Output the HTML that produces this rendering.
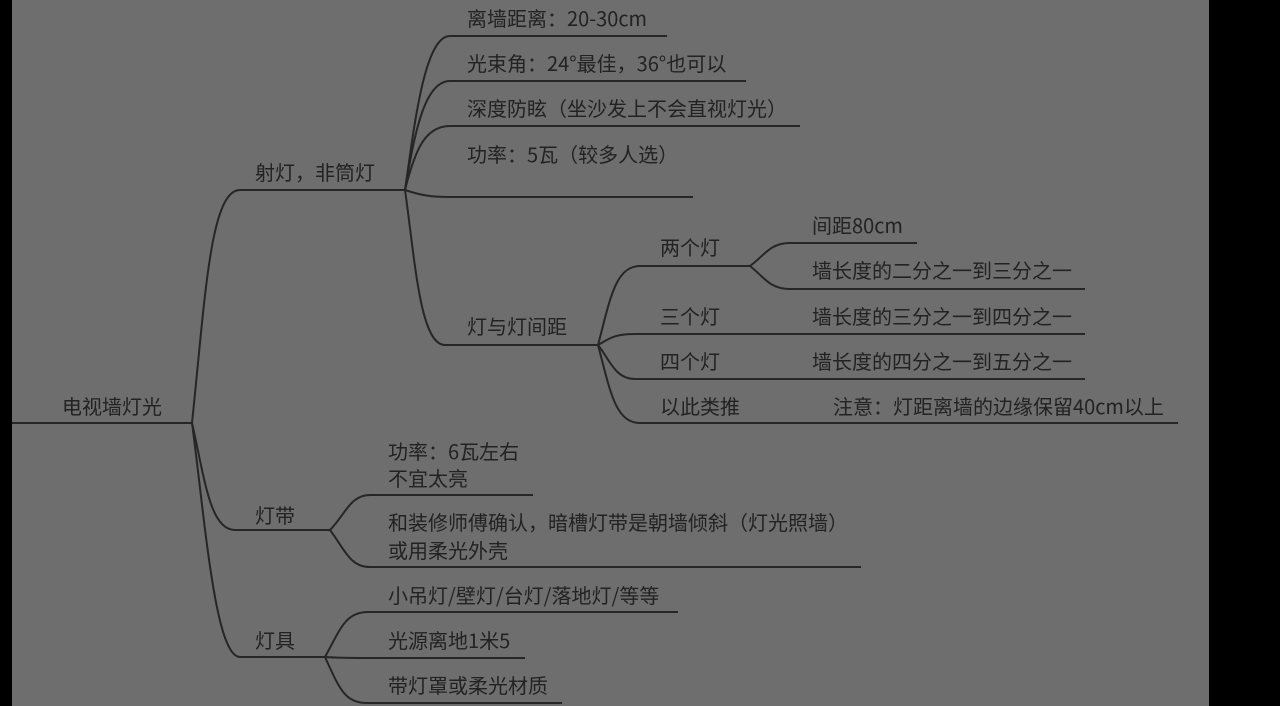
<!DOCTYPE html>
<html><head><meta charset="utf-8"><style>
html,body{margin:0;padding:0;width:1280px;height:706px;overflow:hidden;background:#000}
svg{display:block}
text{font-family:"Noto Sans CJK SC","Liberation Sans",sans-serif;font-size:20px;fill:#222}
</style></head><body>
<svg width="1280" height="706" viewBox="0 0 1280 706">
<rect x="12" y="0" width="1197" height="706" fill="#6e6e6e"/>
<g fill="none" stroke="#262626" stroke-width="2">
<path d="M12 423 H192"/>
<path d="M192 423 C205 300 210 190 240 190 H405"/>
<path d="M192 423 C205 480 210 530 235 530 H330"/>
<path d="M192 423 C205 520 215 657 240 657 H325"/>
<path d="M405 190 C415 120 425 36 450 36 H667"/>
<path d="M405 190 C415 130 425 81 450 81 H746"/>
<path d="M405 190 C415 150 425 126 450 126 H800"/>
<path d="M405 190 C420 195 430 197 450 197 H693"/>
<path d="M405 190 C415 260 420 345 445 345 H598"/>
<path d="M598 345 C610 300 615 266 640 266 H750"/>
<path d="M598 345 C610 338 615 334 635 334 H1085"/>
<path d="M598 345 C610 360 615 379 635 379 H1085"/>
<path d="M598 345 C610 390 615 423 640 423 H1178"/>
<path d="M750 266 C765 255 770 243 790 243 H917"/>
<path d="M750 266 C765 278 770 289 790 289 H1085"/>
<path d="M330 530 C345 515 350 495 370 495 H533"/>
<path d="M330 530 C345 550 350 567 370 567 H861"/>
<path d="M325 657 C340 630 345 612 368 612 H678"/>
<path d="M325 657 C340 658 345 658 368 658 H525"/>
<path d="M325 657 C340 690 345 703 368 703 H562"/>
</g>
<text x="62" y="414">电视墙灯光</text>
<text x="255" y="180">射灯，非筒灯</text>
<text x="255" y="523">灯带</text>
<text x="255" y="648">灯具</text>
<text x="467" y="26">离墙距离：20-30cm</text>
<text x="467" y="71">光束角：24°最佳，36°也可以</text>
<text x="467" y="116">深度防眩（坐沙发上不会直视灯光）</text>
<text x="467" y="162">功率：5瓦（较多人选）</text>
<text x="467" y="334">灯与灯间距</text>
<text x="660" y="255">两个灯</text>
<text x="660" y="324">三个灯</text>
<text x="660" y="369">四个灯</text>
<text x="660" y="414">以此类推</text>
<text x="812" y="233">间距80cm</text>
<text x="812" y="278">墙长度的二分之一到三分之一</text>
<text x="812" y="324">墙长度的三分之一到四分之一</text>
<text x="812" y="369">墙长度的四分之一到五分之一</text>
<text x="833" y="414">注意：灯距离墙的边缘保留40cm以上</text>
<text x="388" y="459">功率：6瓦左右</text>
<text x="388" y="486">不宜太亮</text>
<text x="388" y="530">和装修师傅确认，暗槽灯带是朝墙倾斜（灯光照墙）</text>
<text x="388" y="558">或用柔光外壳</text>
<text x="388" y="603">小吊灯/壁灯/台灯/落地灯/等等</text>
<text x="388" y="648">光源离地1米5</text>
<text x="388" y="693">带灯罩或柔光材质</text>
</svg>
</body></html>
